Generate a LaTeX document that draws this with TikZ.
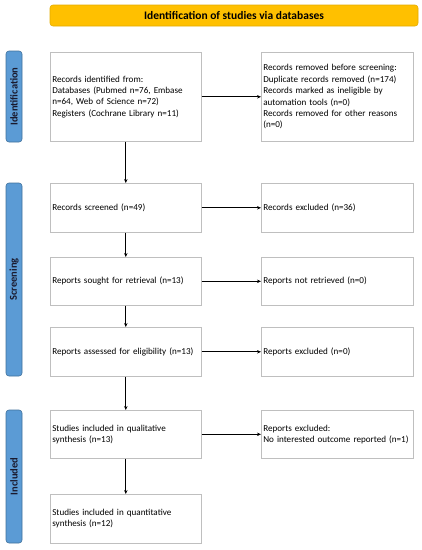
\documentclass[tikz,border=0pt]{standalone}
\usepackage{fontspec}
\setmainfont{Carlito}
\usetikzlibrary{arrows.meta}

\definecolor{boxgray}{HTML}{BFBFBF}
\definecolor{bannerfill}{HTML}{FFC000}
\definecolor{bannerdraw}{HTML}{E3AC00}
\definecolor{barfill}{HTML}{5B9BD5}
\definecolor{bardraw}{HTML}{41719C}
\definecolor{bartext}{HTML}{1A1A2E}

\newcommand\boxfont{\fontsize{9.1}{11.4}\selectfont\hyphenpenalty=10000\relax\exhyphenpenalty=10000\relax}

\tikzset{
  stagebox/.style={draw=boxgray, line width=0.6pt, anchor=north west,
    text width=147pt, inner xsep=2pt, inner ysep=2pt, align=left,
    font=\boxfont},
  stagebar/.style={draw=bardraw, fill=barfill, line width=0.6pt, rounded corners=3pt,
    rotate=90, minimum height=16pt, inner sep=0pt,
    font=\bfseries\fontsize{10.5}{12}\selectfont, text=bartext},
  flow/.style={-{Stealth[length=4pt,width=3.5pt]}, line width=0.8pt},
}

\begin{document}
\begin{tikzpicture}[x=1pt,y=-1pt]
  \useasboundingbox (0,0) rectangle (422,550);

  % banner
  \node[draw=bannerdraw, fill=bannerfill, rounded corners=3pt, line width=0.6pt,
        minimum width=368pt, minimum height=21pt, inner sep=0pt,
        font=\bfseries\fontsize{11.5}{13}\selectfont] (banner) at (234,15.5)
        {Identification of studies via databases};

  % side bars
  \node[stagebar, minimum width=91pt]  (idbar)  at (14,96.5)  {Identification};
  \node[stagebar, minimum width=193pt] (scrbar) at (14,279.5) {Screening};
  \node[stagebar, minimum width=133pt] (incbar) at (14,476.5) {Included};

  % left column
  \node[stagebox, minimum height=89pt] (ident) at (50,52)
    {Records identified from:\\Databases (Pubmed n=76, Embase n=64, Web of Science n=72)\\Registers (Cochrane Library n=11)};
  \node[stagebox, minimum height=49pt] (screen) at (50,183) {Records screened (n=49)};
  \node[stagebox, minimum height=48pt] (sought) at (50,257) {Reports sought for retrieval (n=13)};
  \node[stagebox, minimum height=49pt] (assess) at (50,327) {Reports assessed for eligibility (n=13)};
  \node[stagebox, minimum height=48pt] (qual)   at (50,410) {Studies included in qualitative synthesis (n=13)};
  \node[stagebox, minimum height=49pt] (quant)  at (50,494) {Studies included in quantitative synthesis (n=12)};

  % right column
  \node[stagebox, text width=148pt, minimum height=89pt] (removed) at (261,52)
    {Records removed before screening:\\Duplicate records removed (n=174)\\Records marked as ineligible by automation tools (n=0)\\Records removed for other reasons (n=0)};
  \node[stagebox, text width=148pt, minimum height=49pt] (recexcl) at (261,183) {Records excluded (n=36)};
  \node[stagebox, text width=148pt, minimum height=48pt] (notret)  at (261,257) {Reports not retrieved (n=0)};
  \node[stagebox, text width=148pt, minimum height=49pt] (repexcl) at (261,327) {Reports excluded (n=0)};
  \node[stagebox, text width=148pt, minimum height=48pt] (outexcl) at (261,410) {Reports excluded:\\No interested outcome reported (n=1)};

  % connectors
  \draw[flow] (ident) -- (screen);
  \draw[flow] (screen) -- (sought);
  \draw[flow] (sought) -- (assess);
  \draw[flow] (assess) -- (qual);
  \draw[flow] (qual) -- (quant);
  \draw[flow] (ident) -- (removed);
  \draw[flow] (screen) -- (recexcl);
  \draw[flow] (sought) -- (notret);
  \draw[flow] (assess) -- (repexcl);
  \draw[flow] (qual) -- (outexcl);
\end{tikzpicture}
\end{document}
